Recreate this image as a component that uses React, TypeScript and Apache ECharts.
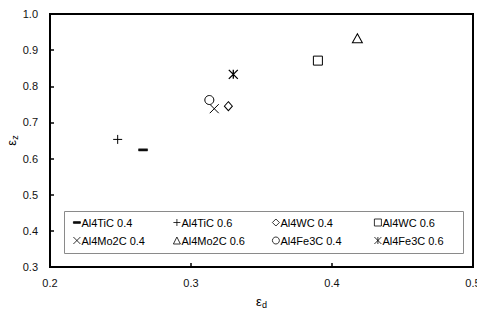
import React, { useEffect, useRef } from "react";
import * as echarts from "echarts";

const seriesNames = [
  "Al4TiC 0.4",
  "Al4TiC 0.6",
  "Al4WC 0.4",
  "Al4WC 0.6",
  "Al4Mo2C 0.4",
  "Al4Mo2C 0.6",
  "Al4Fe3C 0.4",
  "Al4Fe3C 0.6",
];
const epsD = [0.266, 0.248, 0.3265, 0.39, 0.3165, 0.418, 0.313, 0.330];
const epsZ = [0.624, 0.653, 0.745, 0.871, 0.738, 0.933, 0.762, 0.833];
const xTicks = [0.2, 0.3, 0.4, 0.5];
const yTicks = [0.3, 0.4, 0.5, 0.6, 0.7, 0.8, 0.9, 1.0];

const DASH = "path://M0 0 M0 10 M0 3.8 H10 V6.2 H0 Z";
const PLUS = "path://M5 0 V10 M0 5 H10";
const CROSS = "path://M0 0 L10 10 M10 0 L0 10";
const STAR = "path://M0 0 L10 10 M10 0 L0 10 M5 0 V10";
const symbols = [DASH, PLUS, "diamond", "rect", CROSS, "triangle", "circle", STAR];
const sizes: any[] = [9, 9, [8, 9], 9, 9, [10, 9], 9, 9];

const FONT = "Liberation Sans, Arial, sans-serif";

const nameRich = {
  e: { fontSize: 13, fontFamily: FONT, color: "#000" },
  s: { fontSize: 9, fontFamily: FONT, color: "#000", padding: [7, 0, 0, 0] },
};

export default function App() {
  const ref = useRef<HTMLDivElement>(null);
  useEffect(() => {
    if (!ref.current) return;
    const chart = echarts.init(ref.current, null, { renderer: "svg" });
    const series = seriesNames.map((name, i) => {
      const lineOnly = i === 1 || i === 4 || i === 7;
      const dash = i === 0;
      return {
        type: "scatter",
        name,
        data: [[epsD[i], epsZ[i]]],
        symbol: symbols[i],
        symbolSize: sizes[i],
        itemStyle: {
          color: dash ? "#111" : lineOnly ? "rgba(0,0,0,0)" : "#fff",
          borderColor: "#000",
          borderWidth: dash ? 0.5 : i === 7 ? 1.3 : 1,
          opacity: 1,
        },
      };
    });
    const cols = [
      { left: 73, items: [0, 4] },
      { left: 173, items: [1, 5] },
      { left: 272, items: [2, 6] },
      { left: 374, items: [3, 7] },
    ];
    const legends = cols.map((c) => ({
      orient: "vertical",
      left: c.left,
      top: 217,
      itemWidth: 7,
      itemHeight: 7,
      itemGap: 7,
      padding: 0,
      z: 10,
      itemStyle: { borderWidth: 0.8 },
      textStyle: { fontSize: 11, fontFamily: FONT, color: "#000", padding: [0, 0, 0, -4] },
      data: c.items.map((k) => ({ name: seriesNames[k] })),
    }));
    chart.setOption({
      animation: false,
      backgroundColor: "#fff",
      textStyle: { fontFamily: FONT },
      grid: {
        left: 50,
        right: 12,
        top: 14,
        bottom: 50,
        show: true,
        borderColor: "#000",
        borderWidth: 2,
        backgroundColor: "rgba(0,0,0,0)",
        outerBoundsMode: "none",
        containLabel: false,
      },
      legend: legends,
      graphic: [
        {
          type: "rect",
          z: 5,
          shape: { x: 64.5, y: 211.5, width: 399, height: 42 },
          style: { fill: "#fff", stroke: "#8a8a8a", lineWidth: 1 },
        },
      ],
      xAxis: {
        type: "value",
        min: xTicks[0],
        max: xTicks[xTicks.length - 1],
        interval: 0.1,
        name: "{e|ε}{s|d}",
        nameLocation: "middle",
        nameGap: 26,
        nameMoveOverlap: false,
        nameTextStyle: { rich: nameRich },
        axisLine: { lineStyle: { color: "#000", width: 2 } },
        axisTick: { inside: true, length: 4, lineStyle: { color: "#000", width: 1.5 } },
        axisLabel: { fontSize: 11, color: "#111", margin: 10, fontFamily: FONT, formatter: (v: number) => v.toFixed(1) },
        splitLine: { show: false },
      },
      yAxis: {
        type: "value",
        min: yTicks[0],
        max: yTicks[yTicks.length - 1],
        interval: 0.1,
        name: "{e|ε}{s|z}",
        nameLocation: "middle",
        nameRotate: 90,
        nameGap: 31,
        nameMoveOverlap: false,
        nameTextStyle: { rich: nameRich },
        axisLine: { lineStyle: { color: "#000", width: 2 } },
        axisTick: { inside: true, length: 4, lineStyle: { color: "#000", width: 1.5 } },
        axisLabel: { fontSize: 11, color: "#111", margin: 12, fontFamily: FONT, formatter: (v: number) => v.toFixed(1) },
        splitLine: { show: false },
      },
      series,
    });
    return () => chart.dispose();
  }, []);
  return <div ref={ref} style={{ width: 485, height: 317, margin: -8 }} />;
}
